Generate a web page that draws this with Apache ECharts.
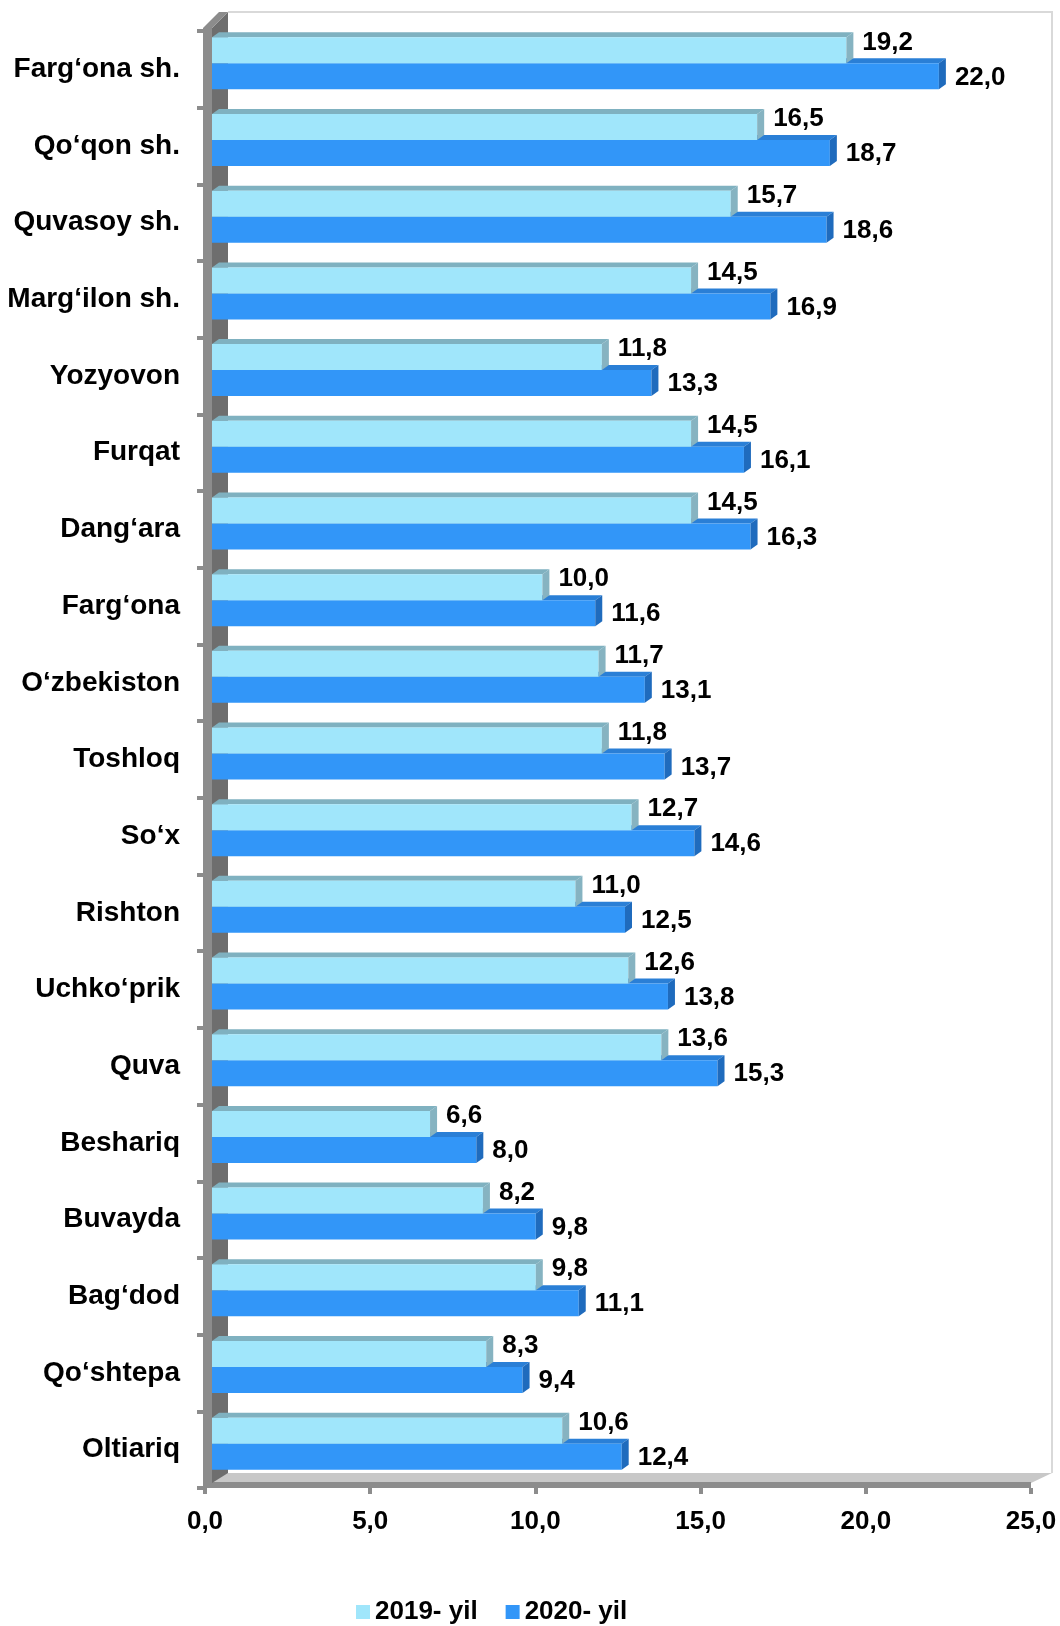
<!DOCTYPE html>
<html>
<head>
<meta charset="utf-8">
<script src="https://cdn.jsdelivr.net/npm/echarts@6/dist/echarts.min.js"></script>
<style>
  html, body { margin: 0; padding: 0; background: #fff; }
  #main { width: 1060px; height: 1626px; }
</style>
</head>
<body>
<div id="main"></div>
<script>
// hududlar (yuqoridan pastga)
var categories = ['Farg‘ona sh.', 'Qo‘qon sh.', 'Quvasoy sh.', 'Marg‘ilon sh.', 'Yozyovon', 'Furqat',
  'Dang‘ara', 'Farg‘ona', 'O‘zbekiston', 'Toshloq', 'So‘x', 'Rishton', 'Uchko‘prik', 'Quva',
  'Beshariq', 'Buvayda', 'Bag‘dod', 'Qo‘shtepa', 'Oltiariq'];
var values2019 = [19.2, 16.5, 15.7, 14.5, 11.8, 14.5, 14.5, 10.0, 11.7, 11.8, 12.7, 11.0, 12.6, 13.6, 6.6, 8.2, 9.8, 8.3, 10.6];
var values2020 = [22.0, 18.7, 18.6, 16.9, 13.3, 16.1, 16.3, 11.6, 13.1, 13.7, 14.6, 12.5, 13.8, 15.3, 8.0, 9.8, 11.1, 9.4, 12.4];
var seriesNames = ['2019- yil', '2020- yil'];

var FONT = 'Arial, "Liberation Sans", sans-serif';

function fmt(v) {
  return v.toFixed(1).replace('.', ',');
}

function toData(arr) {
  return arr.map(function (v, i) { return [v, i]; });
}

// 3D ko'rinishdagi ustun: old yuz, ustki yuz va o'ng yon
function makeBarRender(front, top, side, yShift, labelDy) {
  return function (params, api) {
    var val = api.value(0);
    var cat = api.value(1);
    var s = api.coord([0, cat]);
    var e = api.coord([val, cat]);
    var h = 26, dx = 7, dy = 5;
    var x0 = s[0] + 7, x1 = e[0] + 7;
    var y0 = s[1] + yShift;
    return {
      type: 'group',
      children: [
        { type: 'polygon', shape: { points: [[x0, y0], [x1, y0], [x1 + dx, y0 - dy], [x0 + dx, y0 - dy]] }, style: { fill: top } },
        { type: 'rect', shape: { x: x0, y: y0, width: x1 - x0, height: h }, style: { fill: front } },
        { type: 'polygon', shape: { points: [[x1, y0], [x1 + dx, y0 - dy], [x1 + dx, y0 + h - dy], [x1, y0 + h]] }, style: { fill: side } },
        {
          type: 'text',
          style: {
            text: fmt(val), x: x1 + 16, y: y0 + labelDy,
            verticalAlign: 'middle', align: 'left',
            font: 'bold 26px ' + FONT, fill: '#000'
          }
        }
      ]
    };
  };
}

// chap devor, pol va orqa devor chiziqlari
function renderFrame(params, api) {
  var cs = params.coordSys;
  var L = cs.x, R = cs.x + cs.width, T = cs.y, B = cs.y + cs.height;
  return {
    type: 'group',
    children: [
      { type: 'polyline', shape: { points: [[L + 23, T - 19], [R + 21, T - 19], [R + 21, B - 15]] }, style: { stroke: '#d9d9d9', lineWidth: 2, fill: null } },
      { type: 'polygon', shape: { points: [[L, B - 5], [L + 21, B - 15], [R + 21, B - 15], [R, B - 5]] }, style: { fill: '#c8c8c8' } },
      { type: 'rect', shape: { x: L - 2, y: B - 6, width: R - L + 2, height: 6 }, style: { fill: '#8c8c8c' } },
      { type: 'polygon', shape: { points: [[L + 7, T - 3], [L + 23, T - 19], [L + 23, B - 15], [L + 7, B - 5]] }, style: { fill: '#6e6e6e' } },
      { type: 'polygon', shape: { points: [[L - 2, T - 3], [L + 7, T - 3], [L + 23, T - 19], [L + 14, T - 19]] }, style: { fill: '#8c8c8c' } },
      { type: 'rect', shape: { x: L - 2, y: T - 3, width: 9, height: B - T + 3 }, style: { fill: '#8c8c8c' } }
    ]
  };
}

var chart = echarts.init(document.getElementById('main'));

chart.setOption({
  animation: false,
  textStyle: { fontFamily: FONT },
  grid: { left: 205, right: 29, top: 31, bottom: 138 },
  legend: {
    data: seriesNames,
    left: 351,
    bottom: -4,
    icon: 'rect',
    itemWidth: 14,
    itemHeight: 14,
    itemGap: 28,
    textStyle: { fontSize: 26, fontWeight: 'bold', color: '#000', fontFamily: FONT }
  },
  xAxis: {
    type: 'value',
    min: 0,
    max: 25,
    interval: 5,
    splitLine: { show: false },
    axisLine: { show: false },
    axisTick: { show: true, length: 6, lineStyle: { color: '#8c8c8c', width: 4 } },
    axisLabel: {
      margin: 21,
      fontSize: 26,
      fontWeight: 'bold',
      color: '#000',
      formatter: function (v) { return fmt(v); }
    }
  },
  yAxis: {
    type: 'category',
    inverse: true,
    data: categories,
    axisLine: { show: false },
    axisTick: { show: true, length: 8, lineStyle: { color: '#8c8c8c', width: 4 } },
    axisLabel: { margin: 25, fontSize: 28, fontWeight: 'bold', color: '#000' }
  },
  series: [
    {
      type: 'custom',
      silent: true,
      z: 1,
      data: [[0, 0]],
      encode: { x: 0, y: 1 },
      renderItem: renderFrame
    },
    {
      name: seriesNames[0],
      type: 'custom',
      z: 3,
      itemStyle: { color: '#a0e6fb' },
      data: toData(values2019),
      encode: { x: 0, y: 1 },
      renderItem: makeBarRender('#a0e6fb', '#7fb1c0', '#86b3c1', -32, 5)
    },
    {
      name: seriesNames[1],
      type: 'custom',
      z: 2,
      itemStyle: { color: '#3296f8' },
      data: toData(values2020),
      encode: { x: 0, y: 1 },
      renderItem: makeBarRender('#3296f8', '#2a7fd6', '#1f6bbd', -6, 14)
    }
  ]
});
</script>
</body>
</html>
